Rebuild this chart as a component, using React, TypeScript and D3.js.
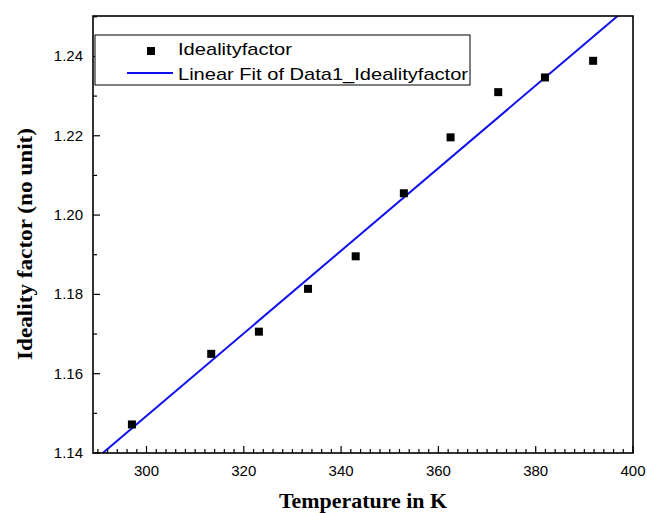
import { useEffect, useRef } from 'react'
import * as d3 from 'd3'

// measured points
const temps = [297, 313.3, 323.1, 333.2, 343, 352.9, 362.5, 372.3, 381.9, 391.8]
const ideality = [1.1472, 1.165, 1.1706, 1.1814, 1.1896, 1.2055, 1.2196, 1.231, 1.2347, 1.2389]

// linear fit, two end points
const fitT = [289, 400]
const fitY = [1.1379, 1.2535]

const xTicks = [300, 320, 340, 360, 380, 400]
const yTicks = [1.14, 1.16, 1.18, 1.2, 1.22, 1.24]

const legendText = ['Idealityfactor', 'Linear Fit of Data1_Idealityfactor']

export default function App() {
  const ref = useRef<SVGSVGElement>(null)

  useEffect(() => {
    if (!ref.current) return
    const W = 647, H = 513
    const m = { left: 93, top: 16, right: 633, bottom: 453 }

    const svg = d3.select(ref.current)
    svg.selectAll('*').remove()

    const x = d3.scaleLinear().domain([289, 400]).range([m.left, m.right])
    const y = d3.scaleLinear().domain([1.14, 1.2502]).range([m.bottom, m.top])

    svg.append('rect').attr('width', W).attr('height', H).attr('fill', 'white')

    svg.append('clipPath').attr('id', 'plotclip')
      .append('rect')
      .attr('x', m.left).attr('y', m.top)
      .attr('width', m.right - m.left).attr('height', m.bottom - m.top)

    // fit line
    svg.append('line')
      .attr('clip-path', 'url(#plotclip)')
      .attr('x1', x(fitT[0])).attr('y1', y(fitY[0]))
      .attr('x2', x(fitT[1])).attr('y2', y(fitY[1]))
      .attr('stroke', '#1010ee')
      .attr('stroke-width', 2)

    // points
    svg.append('g').selectAll('rect')
      .data(temps.map((t, i) => [t, ideality[i]]))
      .enter()
      .append('rect')
      .attr('x', d => x(d[0]) - 4)
      .attr('y', d => y(d[1]) - 4)
      .attr('width', 8)
      .attr('height', 8)
      .attr('fill', 'black')

    // x axis, ticks inward
    const xMinor = d3.range(290, 401, 2).filter(v => v % 20 !== 0)
    const xa = svg.append('g').attr('transform', `translate(0,${m.bottom})`)
    xa.selectAll('.minor').data(xMinor).enter().append('line')
      .attr('x1', d => x(d)).attr('x2', d => x(d))
      .attr('y1', 0).attr('y2', -4)
      .attr('stroke', 'black').attr('stroke-width', 1.2)
    xa.selectAll('.major').data(xTicks).enter().append('line')
      .attr('x1', d => x(d)).attr('x2', d => x(d))
      .attr('y1', 0).attr('y2', -7)
      .attr('stroke', 'black').attr('stroke-width', 1.2)
    xa.selectAll('text').data(xTicks).enter().append('text')
      .attr('x', d => x(d)).attr('y', 23)
      .attr('text-anchor', 'middle')
      .style('font-family', '"Liberation Sans", Arial, sans-serif')
      .style('font-size', '15px')
      .text(d => d)

    // y axis
    const yMinor = [1.15, 1.17, 1.19, 1.21, 1.23, 1.25]
    const ya = svg.append('g').attr('transform', `translate(${m.left},0)`)
    ya.selectAll('.minor').data(yMinor).enter().append('line')
      .attr('x1', 0).attr('x2', 4)
      .attr('y1', d => y(d)).attr('y2', d => y(d))
      .attr('stroke', 'black').attr('stroke-width', 1.2)
    ya.selectAll('.major').data(yTicks).enter().append('line')
      .attr('x1', 0).attr('x2', 7)
      .attr('y1', d => y(d)).attr('y2', d => y(d))
      .attr('stroke', 'black').attr('stroke-width', 1.2)
    ya.selectAll('text').data(yTicks).enter().append('text')
      .attr('x', -10).attr('y', d => y(d) + 5)
      .attr('text-anchor', 'end')
      .style('font-family', '"Liberation Sans", Arial, sans-serif')
      .style('font-size', '15px')
      .text(d => d3.format('.2f')(d))

    // frame
    svg.append('rect')
      .attr('x', m.left).attr('y', m.top)
      .attr('width', m.right - m.left).attr('height', m.bottom - m.top)
      .attr('fill', 'none').attr('stroke', 'black').attr('stroke-width', 1.6)

    // axis titles
    svg.append('text')
      .attr('x', (m.left + m.right) / 2).attr('y', 508)
      .attr('text-anchor', 'middle')
      .attr('textLength', 168)
      .attr('lengthAdjust', 'spacingAndGlyphs')
      .style('font-family', '"Liberation Serif", "Times New Roman", serif')
      .style('font-weight', 'bold')
      .style('font-size', '21px')
      .text('Temperature in K')

    svg.append('text')
      .attr('transform', 'translate(32,244) rotate(-90)')
      .attr('text-anchor', 'middle')
      .attr('textLength', 232)
      .attr('lengthAdjust', 'spacingAndGlyphs')
      .style('font-family', '"Liberation Serif", "Times New Roman", serif')
      .style('font-weight', 'bold')
      .style('font-size', '22px')
      .text('Ideality factor (no unit)')

    // legend
    const lg = svg.append('g')
    lg.append('rect')
      .attr('x', 95).attr('y', 35).attr('width', 375).attr('height', 50)
      .attr('fill', 'white').attr('stroke', 'black').attr('stroke-width', 1)
    lg.append('rect')
      .attr('x', 147).attr('y', 47).attr('width', 8).attr('height', 8)
      .attr('fill', 'black')
    lg.append('line')
      .attr('x1', 127).attr('x2', 173).attr('y1', 73).attr('y2', 73)
      .attr('stroke', '#1010ee').attr('stroke-width', 2)
    lg.selectAll('text').data(legendText).enter().append('text')
      .attr('x', 178).attr('y', (d, i) => 55 + i * 25)
      .attr('textLength', (d, i) => (i === 0 ? 114 : 290))
      .attr('lengthAdjust', 'spacingAndGlyphs')
      .style('font-family', '"Liberation Sans", Arial, sans-serif')
      .style('font-size', '17px')
      .text(d => d)
  }, [])

  return (
    <svg ref={ref} width={647} height={513}
      style={{ position: 'absolute', left: 0, top: 0 }} />
  )
}
